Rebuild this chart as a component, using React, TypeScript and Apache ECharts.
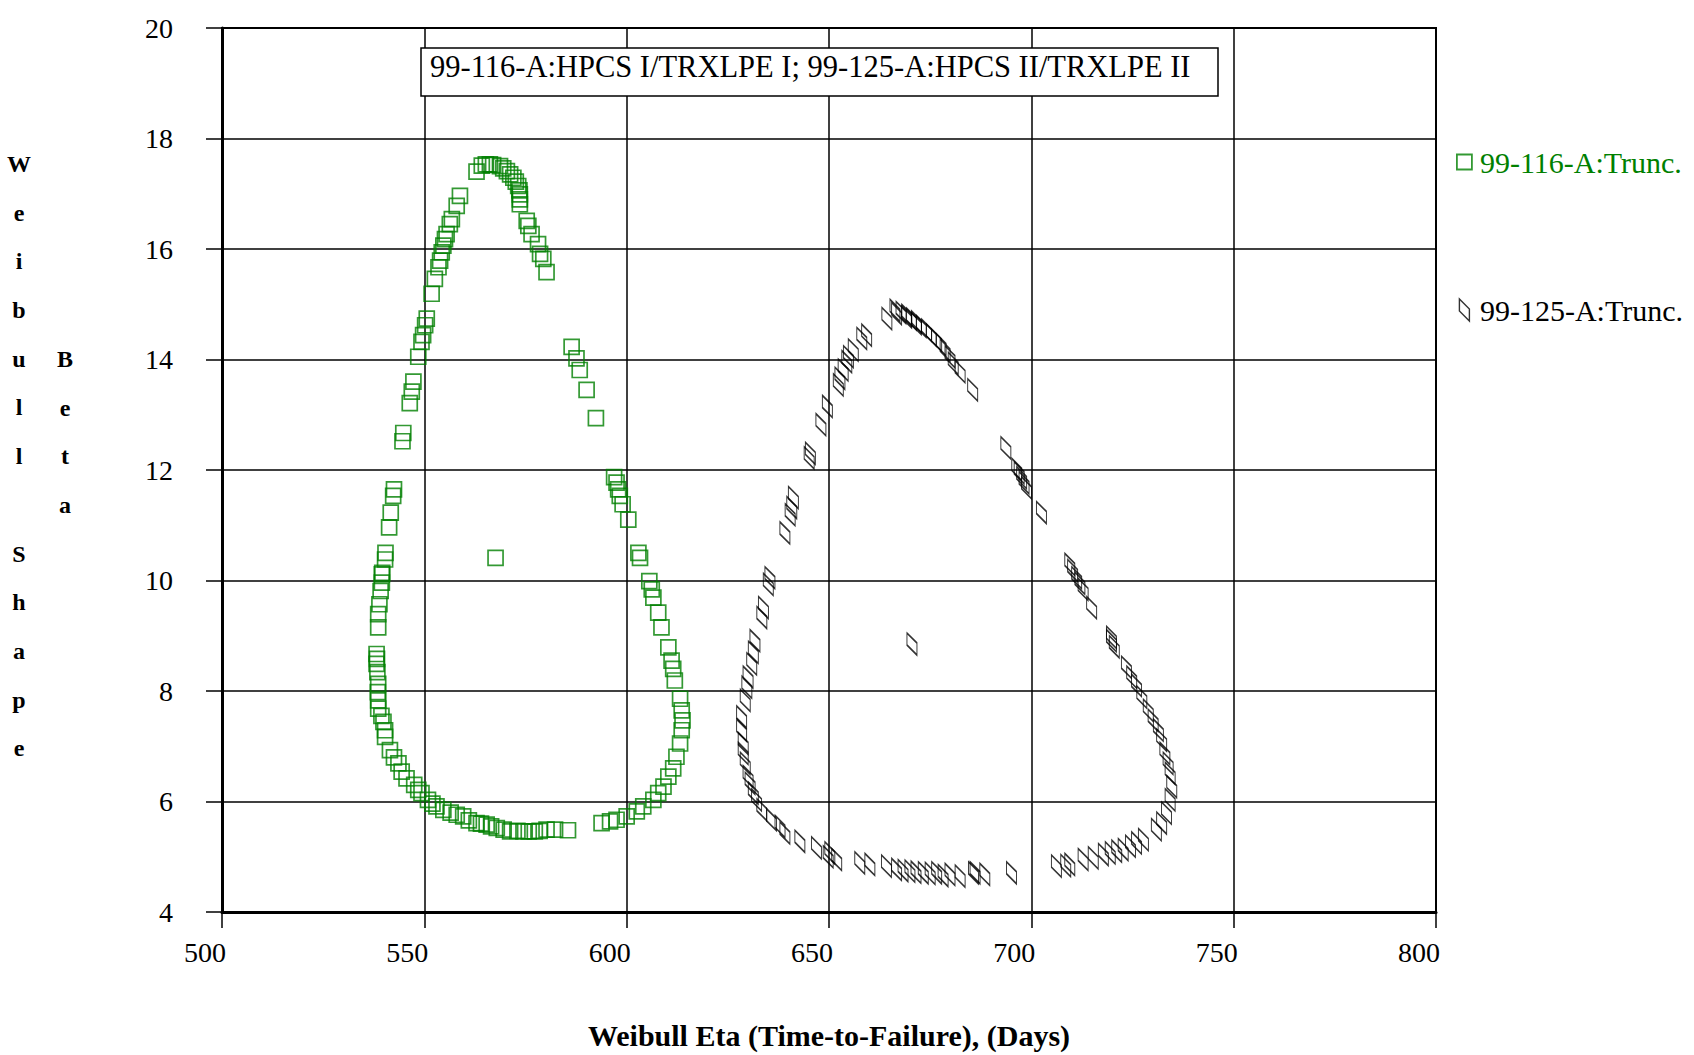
import React, { useEffect, useRef } from "react";
import * as echarts from "echarts";

const FONT = '"Liberation Serif", "Times New Roman", serif';

const xTicks = [500, 550, 600, 650, 700, 750, 800];
const yTicks = [4, 6, 8, 10, 12, 14, 16, 18, 20];

const seriesNames = ["99-116-A:Trunc.", "99-125-A:Trunc."];
const boxTitle = "99-116-A:HPCS I/TRXLPE I; 99-125-A:HPCS II/TRXLPE II";
const xTitle = "Weibull Eta (Time-to-Failure), (Days)";

// 99-116-A (green squares): Eta values
const greenEta = [
  585.5, 582.3, 580.2, 578.5, 577.3, 575.8, 574.5, 573.0, 571.2, 569.6, 567.9, 566.5,
  565.4, 564.0, 562.9, 561.0, 559.6, 558.0, 556.5, 554.7, 553.0, 552.0, 550.9, 549.3,
  548.5, 547.5, 545.6, 544.4, 543.6, 542.5, 541.5, 540.3, 540.3, 539.9, 539.4, 538.6,
  538.6, 538.5, 538.6, 538.4, 538.2, 538.2, 538.3, 538.6, 538.6, 538.9, 539.2, 539.5,
  539.5, 539.6, 540.3, 540.4, 541.3, 541.7, 542.3, 542.5, 544.6, 544.8, 546.4, 546.9,
  547.3, 548.5, 549.3, 549.7, 550.2, 550.6, 551.8, 552.6, 553.5, 553.9, 554.3, 554.7,
  555.1, 555.5, 556.3, 556.8, 558.0, 558.8, 562.9, 564.2, 565.2, 566.2, 567.0, 568.7,
  569.5, 570.4, 571.2, 572.0, 572.6, 573.2, 573.5, 573.6, 573.6, 573.6, 575.3, 575.7,
  576.5, 578.1, 578.6, 579.4, 580.2, 586.4, 587.6, 588.4, 590.1, 592.4, 596.9, 597.5,
  597.9, 598.3, 599.0, 600.4, 602.9, 603.3, 605.6, 606.2, 606.6, 607.8, 608.6, 610.3,
  611.1, 611.5, 611.9, 613.2, 613.6, 613.8, 613.6, 613.2, 612.3, 611.5, 610.3, 609.1,
  607.8, 606.6, 604.1, 602.5, 600.0, 597.5, 595.9, 593.8, 567.6,
];
// 99-116-A (green squares): Beta values
const greenBeta = [
  5.48, 5.49, 5.49, 5.47, 5.46, 5.46, 5.46, 5.47, 5.46, 5.49, 5.52, 5.55,
  5.58, 5.6, 5.61, 5.66, 5.73, 5.76, 5.8, 5.85, 5.91, 5.96, 6.03, 6.15,
  6.21, 6.3, 6.42, 6.54, 6.69, 6.8, 6.93, 7.17, 7.29, 7.44, 7.55, 7.68,
  7.83, 7.98, 8.13, 8.34, 8.49, 8.67, 8.58, 9.15, 9.39, 9.57, 9.81, 9.96,
  10.11, 10.14, 10.38, 10.5, 10.96, 11.23, 11.53, 11.65, 12.52, 12.67, 13.21, 13.42,
  13.6, 14.05, 14.32, 14.44, 14.62, 14.74, 15.19, 15.46, 15.67, 15.79, 15.94, 16.06,
  16.18, 16.27, 16.45, 16.54, 16.78, 16.96, 17.4, 17.51, 17.53, 17.53, 17.52, 17.5,
  17.46, 17.41, 17.35, 17.29, 17.22, 17.14, 17.06, 16.99, 16.9, 16.81, 16.51, 16.42,
  16.27, 16.09, 15.91, 15.82, 15.58, 14.23, 14.02, 13.81, 13.45, 12.94, 11.87, 11.77,
  11.65, 11.53, 11.38, 11.1, 10.5, 10.41, 9.99, 9.84, 9.69, 9.42, 9.15, 8.79,
  8.55, 8.4, 8.19, 7.86, 7.65, 7.47, 7.29, 7.05, 6.81, 6.6, 6.45, 6.27,
  6.15, 6.03, 5.91, 5.82, 5.73, 5.67, 5.64, 5.61, 10.41,
];

// 99-125-A (black parallelograms): Eta values
const blackEta = [
  631.3, 630.5, 630.0, 629.3, 628.8, 628.8, 628.4, 628.4, 629.3, 629.7, 630.0, 630.9,
  631.3, 631.7, 633.4, 633.8, 635.0, 635.4, 639.1, 640.4, 640.8, 641.2, 645.1, 645.4,
  648.0, 649.6, 652.3, 652.7, 653.5, 654.4, 654.8, 656.0, 658.1, 659.3, 664.3, 666.3,
  666.7, 667.8, 669.2, 669.2, 670.4, 671.6, 671.6, 672.8, 674.1, 675.3, 676.6, 677.7,
  678.7, 679.9, 680.7, 682.4, 685.5, 693.7, 696.4, 697.0, 697.6, 698.2, 698.8, 702.5,
  709.5, 710.2, 711.2, 712.0, 712.8, 714.9, 719.8, 719.8, 720.5, 723.5, 724.8, 726.0,
  727.3, 728.9, 730.1, 731.4, 732.2, 733.0, 733.8, 734.3, 734.7, 734.3, 733.4, 732.2,
  730.9, 727.7, 726.0, 724.5, 722.7, 721.1, 719.5, 717.8, 715.3, 712.8, 709.5, 708.5,
  706.2, 695.1, 688.5, 686.1, 685.7, 682.4, 679.9, 678.2, 676.6, 675.0, 673.3, 671.5,
  670.0, 668.3, 666.7, 664.2, 660.1, 657.6, 651.9, 650.2, 649.8, 646.9, 642.8, 639.1,
  637.9, 635.8, 633.4, 632.1, 670.5,
];
// 99-125-A (black parallelograms): Beta values
const blackBeta = [
  6.15, 6.33, 6.45, 6.69, 6.87, 7.05, 7.29, 7.53, 7.83, 8.07, 8.25, 8.49,
  8.7, 8.91, 9.33, 9.51, 9.93, 10.05, 10.86, 11.19, 11.32, 11.5, 12.22, 12.3,
  12.82, 13.15, 13.54, 13.66, 13.81, 13.96, 14.05, 14.17, 14.38, 14.44, 14.74, 14.89,
  14.83, 14.85, 14.8, 14.77, 14.73, 14.68, 14.65, 14.6, 14.53, 14.44, 14.35, 14.27,
  14.17, 14.05, 13.93, 13.78, 13.45, 12.4, 12.01, 11.95, 11.86, 11.77, 11.68, 11.23,
  10.29, 10.18, 10.05, 9.95, 9.84, 9.51, 8.97, 8.91, 8.8, 8.43, 8.25, 8.1,
  7.89, 7.65, 7.47, 7.29, 7.11, 6.87, 6.69, 6.51, 6.27, 6.03, 5.79, 5.61,
  5.49, 5.31, 5.25, 5.19, 5.13, 5.1, 5.07, 5.04, 4.98, 4.95, 4.86, 4.84,
  4.83, 4.71, 4.68, 4.71, 4.71, 4.65, 4.68, 4.66, 4.71, 4.7, 4.71, 4.72,
  4.74, 4.75, 4.77, 4.83, 4.86, 4.89, 4.95, 5.07, 5.0, 5.16, 5.28, 5.43,
  5.55, 5.67, 5.85, 6.03, 8.85,
];

const SQUARE_PATH = "path://M0,0L10,0L10,10L0,10Z";
const PARA_PATH = "path://M0,0L0,12L10,22L10,10Z";

const zip = (a: number[], b: number[]) => a.map((v, i) => [v, b[i]]);

export default function App() {
  const ref = useRef<HTMLDivElement>(null);

  useEffect(() => {
    if (!ref.current) return;
    const chart = echarts.init(ref.current, undefined, { renderer: "svg" });
    const option: any = {
      animation: false,
      backgroundColor: "#ffffff",
      grid: {
        left: 222,
        right: 258,
        top: 28,
        bottom: 139,
        show: true,
        borderColor: "#000",
        borderWidth: 2,
        backgroundColor: "transparent",
      },
      xAxis: {
        type: "value",
        min: xTicks[0],
        max: xTicks[xTicks.length - 1],
        interval: 50,
        axisLine: { show: true, onZero: false, lineStyle: { color: "#000", width: 3 } },
        axisTick: { show: true, inside: false, length: 16, lineStyle: { color: "#000", width: 1.5 } },
        splitLine: { show: true, lineStyle: { color: "#000", width: 1.5 } },
        axisLabel: {
          fontFamily: FONT,
          fontSize: 28,
          color: "#000",
          margin: 26,
          padding: [0, 34, 0, 0],
        },
        name: xTitle,
        nameLocation: "middle",
        nameGap: 108,
        nameTextStyle: { fontFamily: FONT, fontSize: 30, fontWeight: "bold", color: "#000" },
      },
      yAxis: {
        type: "value",
        min: yTicks[0],
        max: yTicks[yTicks.length - 1],
        interval: 2,
        axisLine: { show: true, onZero: false, lineStyle: { color: "#000", width: 3 } },
        axisTick: { show: true, inside: false, length: 16, lineStyle: { color: "#000", width: 1.5 } },
        splitLine: { show: true, lineStyle: { color: "#000", width: 1.5 } },
        axisLabel: {
          fontFamily: FONT,
          fontSize: 28,
          color: "#000",
          margin: 49,
          padding: [0, 0, 14, 0],
        },
      },
      legend: {
        orient: "vertical",
        left: 1451,
        top: 142,
        itemWidth: 15,
        itemHeight: 22,
        itemGap: 118,
        symbolKeepAspect: true,
        textStyle: { fontFamily: FONT, fontSize: 30, lineHeight: 28, padding: [0, 0, 0, 3] },
        data: [
          {
            name: seriesNames[0],
            icon: SQUARE_PATH,
            itemStyle: { color: "transparent", borderColor: "#008000", borderWidth: 1.8 },
            textStyle: { color: "#008000" },
          },
          {
            name: seriesNames[1],
            icon: PARA_PATH,
            itemStyle: { color: "transparent", borderColor: "#000", borderWidth: 1.4 },
            textStyle: { color: "#000" },
          },
        ],
      },
      series: [
        {
          name: seriesNames[0],
          type: "scatter",
          symbol: "rect",
          symbolSize: 15,
          itemStyle: { color: "transparent", borderColor: "#008000", borderWidth: 1.7 },
          data: zip(greenEta, greenBeta),
          z: 3,
        },
        {
          name: seriesNames[1],
          type: "scatter",
          symbol: PARA_PATH,
          symbolSize: [10, 22],
          itemStyle: { color: "transparent", borderColor: "#000", borderWidth: 1.4 },
          data: zip(blackEta, blackBeta),
          z: 3,
        },
      ],
      graphic: [
        {
          type: "rect",
          z: 100,
          shape: { x: 421, y: 48, width: 797, height: 48 },
          style: { fill: "#fff", stroke: "#000", lineWidth: 1.5 },
        },
        {
          type: "text",
          z: 101,
          x: 430,
          y: 67,
          style: {
            text: boxTitle,
            fontFamily: FONT,
            fontSize: 30.5,
            fill: "#000",
            verticalAlign: "middle",
            align: "left",
          },
        },
        {
          type: "text",
          x: 19,
          y: 139.6,
          style: {
            text: "W\ne\ni\nb\nu\nl\nl\n \nS\nh\na\np\ne",
            fontFamily: FONT,
            fontSize: 24,
            fontWeight: "bold",
            lineHeight: 48.7,
            align: "center",
            verticalAlign: "top",
            fill: "#000",
          },
        },
        {
          type: "text",
          x: 65,
          y: 334.5,
          style: {
            text: "B\ne\nt\na",
            fontFamily: FONT,
            fontSize: 24,
            fontWeight: "bold",
            lineHeight: 48.7,
            align: "center",
            verticalAlign: "top",
            fill: "#000",
          },
        },
      ],
    };
    chart.setOption(option);
    return () => chart.dispose();
  }, []);

  return <div ref={ref} style={{ width: 1694, height: 1055, position: "absolute", left: 0, top: 0 }} />;
}
